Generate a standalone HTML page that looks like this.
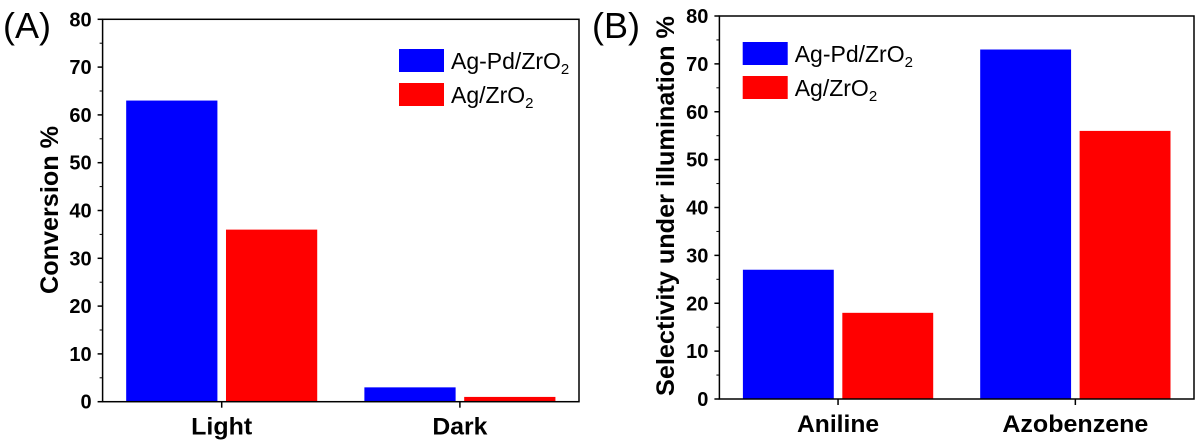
<!DOCTYPE html>
<html><head><meta charset="utf-8"><style>
html,body{margin:0;padding:0;background:#fff;}
svg{display:block;}
text{font-family:"Liberation Sans",Arial,sans-serif;}
</style></head><body>
<svg id="chart" width="1200" height="443" viewBox="0 0 1200 443" xmlns="http://www.w3.org/2000/svg"></svg>
<script>
const seriesNames = ["Ag-Pd/ZrO", "Ag/ZrO"];
const seriesColors = ["#0000ff", "#ff0000"];
const catsA = ["Light", "Dark"];
const agPdA = [63, 3];
const agA = [36, 1];
const catsB = ["Aniline", "Azobenzene"];
const agPdB = [27, 73];
const agB = [18, 56];
const yTicks = [0, 10, 20, 30, 40, 50, 60, 70, 80];

const NS = "http://www.w3.org/2000/svg";
const svg = document.getElementById("chart");
function mk(tag, attrs, parent) {
  const e = document.createElementNS(NS, tag);
  for (const k in attrs) e.setAttribute(k, attrs[k]);
  (parent || svg).appendChild(e);
  return e;
}

function panel(cfg) {
  const g = mk("g", {});
  
  
  const L = cfg.left, R = cfg.right, T = cfg.top, B = cfg.bottom;
  const y = v => B - (v / 80) * (B - T);
  const catW = (R - L) / cfg.cats.length;
  const catC = i => L + catW * (i + 0.5);
  const barW = catW * 0.383, gap = catW * 0.036;
  const series = [cfg.s1, cfg.s2];
  cfg.cats.forEach((c, i) => {
    series.forEach((arr, s) => {
      const x = s === 0 ? catC(i) - gap / 2 - barW : catC(i) + gap / 2;
      const r = mk("rect", {x: x, y: y(arr[i]), width: barW, height: y(0) - y(arr[i]), fill: seriesColors[s]}, g);
      
      
    });
    const t = mk("line", {x1: catC(i), x2: catC(i), y1: B, y2: B + 6, stroke: "#000", "stroke-width": 1.5}, g);
    
    
    const lb = mk("text", {x: catC(i), y: B + 33, "text-anchor": "middle", "font-size": 24, "font-weight": "bold", "textLength": cfg.xlw[i], "lengthAdjust": "spacingAndGlyphs"}, g);
    lb.textContent = c;
    
    
  });
  const fr = mk("rect", {x: L, y: T, width: R - L, height: B - T, fill: "none", stroke: "#000", "stroke-width": 1.5}, g);
  
  
  yTicks.forEach(v => {
    const tk = mk("line", {x1: L - 5, x2: L, y1: y(v), y2: y(v), stroke: "#000", "stroke-width": 1.5}, g);
    
    
    if (v < 80) {
      const mt = mk("line", {x1: L - 3, x2: L, y1: y(v + 5), y2: y(v + 5), stroke: "#000", "stroke-width": 1}, g);
      
      
    }
    const tl = mk("text", {x: L - 11, y: y(v) + 7, "text-anchor": "end", "font-size": 20, "font-weight": "bold"}, g);
    tl.textContent = v;
    
    
  });
  const yt = mk("text", {x: 0, y: 0, transform: "translate(" + cfg.ytx + "," + cfg.yty + ") rotate(-90)", "text-anchor": "middle", "font-size": cfg.ytSize, "font-weight": "bold", "textLength": cfg.ytLen, "lengthAdjust": "spacingAndGlyphs"}, g);
  yt.textContent = cfg.ytitle;
  
  
  const pl = mk("text", {x: cfg.lx, y: 38, "font-size": 36}, g);
  pl.textContent = cfg.letter;
  
  
  seriesNames.forEach((n, s) => {
    const ly = cfg.legY + s * 34;
    const sw = mk("rect", {x: cfg.legX, y: ly, width: 45, height: 23, fill: seriesColors[s]}, g);
    
    
    const lt = mk("text", {x: cfg.legX + 52, y: ly + 20, "font-size": 23}, g);
    
    
    lt.appendChild(document.createTextNode(n));
    const sub = mk("tspan", {"font-size": 15, dy: 5}, lt);
    sub.textContent = "2";
  });
}

panel({name: "panel-a-conversion", cats: catsA, s1: agPdA, s2: agA, left: 102.6, right: 579, top: 19.3, bottom: 401.7,
  ytitle: "Conversion %", ytx: 58, yty: 210, ytSize: 25, ytLen: 168, letter: "(A)", lx: 3, legX: 399, legY: 49, xlw: [61, 55]});
panel({name: "panel-b-selectivity", cats: catsB, s1: agPdB, s2: agB, left: 719.4, right: 1194, top: 16, bottom: 399,
  ytitle: "Selectivity under illumination %", ytx: 674, yty: 206, ytSize: 25, ytLen: 380, letter: "(B)", lx: 592, legX: 742.7, legY: 42, xlw: [82, 146]});
</script>
</body></html>
